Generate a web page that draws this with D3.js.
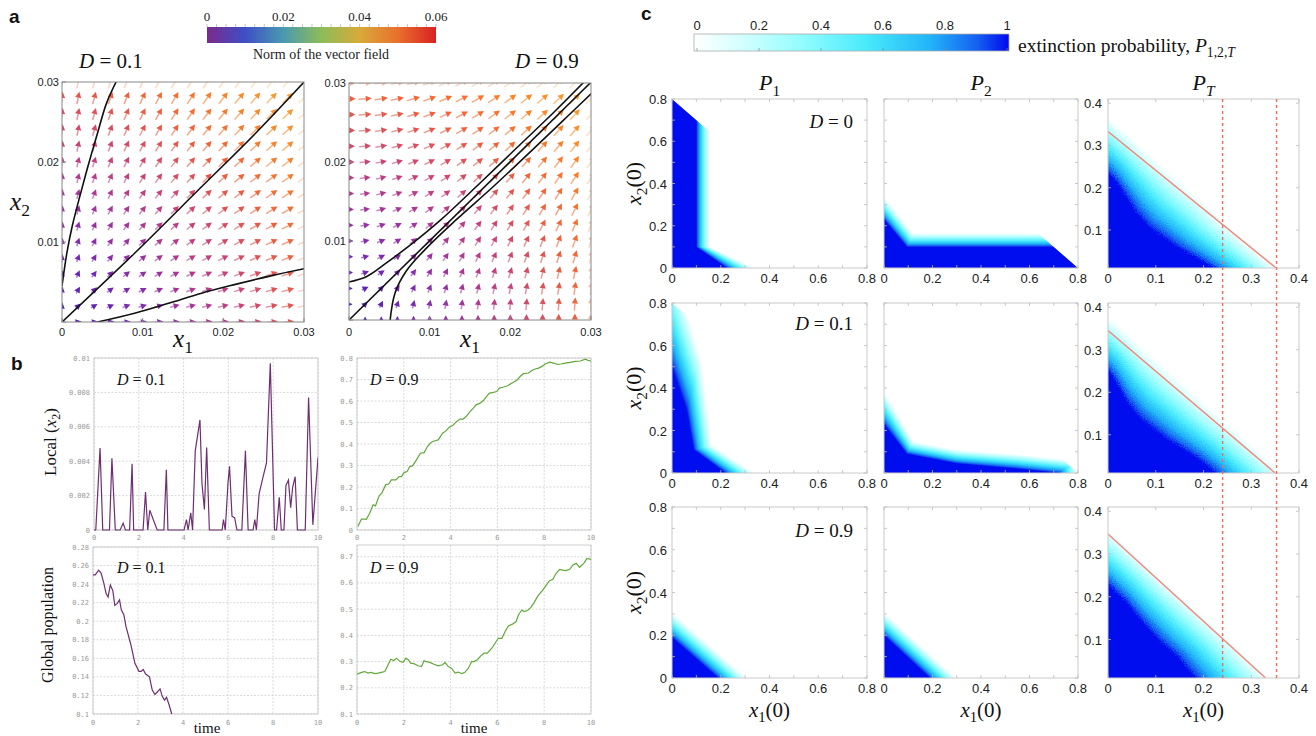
<!DOCTYPE html>
<html>
<head>
<meta charset="utf-8">
<script src="https://cdn.jsdelivr.net/npm/d3@7"></script>
<style>
  body { margin: 0; background: #fff; }
  svg text { font-family: "Liberation Sans", Arial, sans-serif; }
  .serif { font-family: "Liberation Serif", "Times New Roman", serif; }
  .mono { font-family: "DejaVu Sans Mono", monospace; }
</style>
</head>
<body>
<svg id="fig" width="1316" height="736"></svg>
<script>
// ---------------- data: panel a ----------------
const fieldGrid = [0, 0.002, 0.004, 0.006, 0.008, 0.01, 0.012, 0.014, 0.016, 0.018, 0.02, 0.022, 0.024, 0.026, 0.028, 0.03];
const dispersalRates = [0.1, 0.9];
const growthRate = 0.9;
const fieldTicks = [0, 0.01, 0.02, 0.03];
const normTicks = [0, 0.02, 0.04, 0.06];
const normColors = ['#7b2a8c', '#3d4fc6', '#4a9ab0', '#8cbc58', '#d8aa3a', '#e8702c', '#d82222'];
const arrowColors = ['#3414a8', '#6a1cae', '#9c2a98', '#c83c6a', '#ee5a30', '#f8821c', '#f8a82a'];

// solution curves
const curvesD01 = [
  [[0, 0.0045], [0.0006, 0.0086], [0.00125, 0.0119], [0.0021, 0.0153], [0.0032, 0.0194], [0.0044, 0.0236], [0.0055, 0.0273], [0.0067, 0.030]],
  [[0, 0], [0.009, 0.0086], [0.0173, 0.0169], [0.024, 0.0236], [0.0302, 0.0302]],
  [[0.0044, 0], [0.009, 0.0011], [0.0131, 0.0023], [0.0173, 0.0036], [0.0215, 0.0047], [0.026, 0.0058], [0.0302, 0.0067]]
];
const curvesD09 = [
  [[0, 0.0048], [0.0022, 0.0055], [0.0046, 0.0072], [0.0075, 0.0094], [0.0113, 0.0126], [0.0158, 0.0169], [0.0208, 0.0218], [0.0254, 0.0263], [0.0292, 0.0302]],
  [[0, 0], [0.0301, 0.0302]],
  [[0.0051, 0], [0.0057, 0.0034], [0.0071, 0.0062], [0.0096, 0.0091], [0.0133, 0.0127], [0.0179, 0.0169], [0.0229, 0.0217], [0.027, 0.0257], [0.0308, 0.0294]]
];

// ---------------- data: panel b ----------------
const timeTicks = [0, 2, 4, 6, 8, 10];
const localTicksD01 = [0, 0.002, 0.004, 0.006, 0.008, 0.01];
const globalTicksD01 = [0.1, 0.12, 0.14, 0.16, 0.18, 0.2, 0.22, 0.24, 0.26, 0.28];
const localTicksD09 = [0, 0.1, 0.2, 0.3, 0.4, 0.5, 0.6, 0.7, 0.8];
const globalTicksD09 = [0.1, 0.2, 0.3, 0.4, 0.5, 0.6, 0.7];

const localD01 = [[0, 0], [0.08, 0], [0.27, 0.00476], [0.39, 0], [0.69, 0], [0.8, 0.00417], [0.95, 0], [1.17, 0], [1.3, 0.0004], [1.4, 0], [1.59, 0], [1.7, 0.00385], [1.77, 0], [2.19, 0], [2.3, 0.0022], [2.4, 0], [2.49, 0.00115], [2.82, 0], [3.12, 0], [3.23, 0.0035], [3.3, 0], [4.02, 0], [4.13, 0.0006], [4.2, 0], [4.32, 0.001], [4.4, 0], [4.52, 0.0046], [4.73, 0.0064], [4.82, 0.0027], [4.93, 0.0012], [5.03, 0.0048], [5.15, 0], [5.72, 0], [5.78, 0.0006], [5.86, 0], [5.98, 0.0027], [6.05, 0.0037], [6.16, 0.0008], [6.28, 0.0007], [6.38, 0], [6.6, 0], [6.76, 0.0046], [6.88, 0], [7.1, 0], [7.18, 0.0006], [7.25, 0], [7.37, 0.0021], [7.55, 0.0031], [7.7, 0.0039], [7.87, 0.0097], [8.06, 0], [8.15, 0], [8.27, 0.0019], [8.36, 0], [8.48, 0], [8.57, 0.0026], [8.68, 0.0029], [8.78, 0.0013], [8.87, 0.0025], [8.98, 0.0031], [9.08, 0], [9.43, 0], [9.58, 0.0077], [9.77, 0.0003], [10, 0.0042]];
const globalD01 = [[0, 0.25], [0.1, 0.25], [0.25, 0.255], [0.36, 0.252], [0.48, 0.241], [0.58, 0.23], [0.67, 0.226], [0.77, 0.239], [0.88, 0.233], [0.97, 0.217], [1.07, 0.219], [1.18, 0.223], [1.26, 0.212], [1.37, 0.207], [1.47, 0.194], [1.67, 0.176], [1.86, 0.155], [2.04, 0.146], [2.14, 0.146], [2.23, 0.148], [2.34, 0.143], [2.51, 0.14], [2.63, 0.126], [2.75, 0.121], [2.87, 0.124], [2.98, 0.127], [3.08, 0.119], [3.18, 0.115], [3.27, 0.118], [3.38, 0.11], [3.5, 0.1]];
const localD09 = [[0.04, 0.016], [0.19, 0.051], [0.33, 0.051], [0.4, 0.05], [0.54, 0.078], [0.69, 0.117], [0.79, 0.112], [0.94, 0.158], [1.07, 0.174], [1.23, 0.211], [1.36, 0.214], [1.47, 0.233], [1.66, 0.233], [1.8, 0.248], [1.9, 0.248], [2.01, 0.267], [2.14, 0.272], [2.26, 0.295], [2.37, 0.298], [2.54, 0.326], [2.71, 0.357], [2.87, 0.36], [3.01, 0.388], [3.16, 0.407], [3.33, 0.415], [3.47, 0.419], [3.66, 0.45], [3.8, 0.461], [3.94, 0.478], [4.09, 0.486], [4.26, 0.505], [4.4, 0.516], [4.54, 0.516], [4.69, 0.531], [4.83, 0.551], [4.97, 0.567], [5.09, 0.582], [5.26, 0.59], [5.4, 0.602], [5.54, 0.621], [5.66, 0.637], [5.83, 0.64], [5.97, 0.644], [6.09, 0.66], [6.26, 0.665], [6.44, 0.671], [6.61, 0.683], [6.83, 0.696], [6.97, 0.714], [7.11, 0.727], [7.33, 0.73], [7.47, 0.742], [7.61, 0.749], [7.76, 0.753], [7.9, 0.761], [8.04, 0.772], [8.23, 0.781], [8.4, 0.776], [8.57, 0.77], [8.71, 0.772], [8.9, 0.776], [9.11, 0.78], [9.33, 0.784], [9.54, 0.786], [9.76, 0.795], [9.87, 0.789], [10, 0.786]];
const globalD09 = [[0, 0.252], [0.19, 0.259], [0.33, 0.262], [0.47, 0.256], [0.61, 0.259], [0.76, 0.254], [0.9, 0.256], [1.04, 0.259], [1.19, 0.262], [1.33, 0.288], [1.44, 0.309], [1.57, 0.304], [1.69, 0.313], [1.83, 0.301], [1.97, 0.297], [2.09, 0.313], [2.19, 0.307], [2.29, 0.294], [2.43, 0.292], [2.61, 0.284], [2.76, 0.281], [2.86, 0.303], [2.97, 0.3], [3.11, 0.297], [3.29, 0.29], [3.47, 0.284], [3.66, 0.288], [3.76, 0.297], [3.9, 0.281], [4.04, 0.275], [4.19, 0.256], [4.33, 0.26], [4.47, 0.254], [4.61, 0.259], [4.76, 0.275], [4.9, 0.3], [5.0, 0.3], [5.14, 0.307], [5.29, 0.322], [5.43, 0.332], [5.57, 0.332], [5.76, 0.351], [5.9, 0.37], [6.04, 0.389], [6.19, 0.389], [6.33, 0.415], [6.47, 0.436], [6.66, 0.444], [6.8, 0.453], [6.9, 0.478], [7.04, 0.497], [7.14, 0.491], [7.29, 0.495], [7.43, 0.507], [7.57, 0.525], [7.71, 0.548], [7.83, 0.561], [7.94, 0.573], [8.09, 0.592], [8.23, 0.609], [8.37, 0.614], [8.51, 0.637], [8.66, 0.652], [8.8, 0.649], [8.94, 0.647], [9.09, 0.652], [9.23, 0.669], [9.37, 0.675], [9.51, 0.66], [9.69, 0.675], [9.83, 0.694], [10, 0.69]];

// ---------------- data: panel c ----------------
const probTicks = [0, 0.2, 0.4, 0.6, 0.8, 1];
const probStops = [0, 0.15, 0.35, 0.55, 0.75, 0.9, 1];
const probColors = ['#ffffff', '#d4ffff', '#90fcfe', '#48eafc', '#22b4f8', '#1460f0', '#0008ee'];
const initTicksWide = [0, 0.2, 0.4, 0.6, 0.8];
const initTicksNarrow = [0, 0.1, 0.2, 0.3, 0.4];
const dispersalRows = ['0', '0.1', '0.9'];

// contour of the P = 1 core and of the fade-out edge, per panel (x1(0), x2(0))
const coreP1D0 = [[0, 0.8], [0.1, 0.7], [0.1, 0.1], [0.225, 0]];
const edgeP1D0 = [[0, 0.8], [0.155, 0.645], [0.155, 0.1], [0.34, 0]];
const coreP2D0 = [[0, 0.23], [0.095, 0.1], [0.7, 0.1], [0.8, 0]];
const edgeP2D0 = [[0, 0.34], [0.12, 0.165], [0.635, 0.165], [0.8, 0]];
const coreP1D01 = [[0, 0.5], [0.06, 0.3], [0.09, 0.11], [0.22, 0]];
const edgeP1D01 = [[0, 1.0], [0.12, 0.55], [0.165, 0.13], [0.34, 0]];
const coreP2D01 = [[0, 0.23], [0.095, 0.09], [0.3, 0.045], [0.55, 0.02], [0.72, 0]];
const edgeP2D01 = [[0, 0.39], [0.12, 0.15], [0.3, 0.11], [0.55, 0.09], [0.8, 0.06]];
const coreP1D09 = [[0, 0.19], [0.19, 0]];
const edgeP1D09 = [[0, 0.31], [0.31, 0]];
const coreP2D09 = [[0, 0.2], [0.19, 0]];
const edgeP2D09 = [[0, 0.31], [0.3, 0]];
const corePTD0 = [[0, 0.235], [0.02, 0.21], [0.04, 0.175], [0.06, 0.14], [0.085, 0.108], [0.11, 0.088], [0.145, 0.06], [0.18, 0.037], [0.215, 0.014], [0.235, 0]];
const edgePTD0 = [[0, 0.37], [0.04, 0.33], [0.08, 0.29], [0.12, 0.25], [0.16, 0.21], [0.2, 0.17], [0.24, 0.125], [0.28, 0.085], [0.32, 0.045], [0.37, 0]];
const corePTD01 = [[0, 0.252], [0.012, 0.233], [0.04, 0.177], [0.068, 0.138], [0.095, 0.114], [0.123, 0.09], [0.151, 0.071], [0.179, 0.051], [0.207, 0.027], [0.235, 0.0]];
const edgePTD01 = [[0, 0.38], [0.04, 0.34], [0.08, 0.3], [0.12, 0.26], [0.16, 0.22], [0.2, 0.18], [0.24, 0.14], [0.28, 0.1], [0.32, 0.06], [0.38, 0]];
const corePTD09 = [[0, 0.228], [0.04, 0.185], [0.074, 0.138], [0.109, 0.096], [0.144, 0.061], [0.19, 0]];
const edgePTD09 = [[0, 0.36], [0.06, 0.3], [0.12, 0.24], [0.18, 0.18], [0.24, 0.12], [0.35, 0]];
const thresholdLines = [[[0, 0.333], [0.352, 0.01]], [[0, 0.345], [0.35, 0.01]], [[0, 0.347], [0.33, 0.01]]];
const dashedX = [0.24, 0.353];

// ---------------- helpers ----------------
const svg = d3.select('#fig');
const defs = svg.append('defs');

// writes a latex-like label: parts = [{t, i (italic), sub}]
function mathText(g, x, y, parts, size, anchor, rotate) {
  const t = g.append('text')
    .attr('class', 'serif')
    .attr('font-size', size)
    .attr('text-anchor', anchor || 'middle')
    .attr('fill', '#111');
  if (rotate) t.attr('transform', `translate(${x},${y}) rotate(-90)`);
  else t.attr('x', x).attr('y', y);
  let down = false;
  parts.forEach(p => {
    const s = t.append('tspan').text(p.t);
    if (p.i) s.attr('font-style', 'italic');
    if (p.sub) {
      s.attr('font-size', size * 0.7);
      if (!down) s.attr('dy', size * 0.25);
      down = true;
    } else if (down) {
      s.attr('dy', -size * 0.25);
      down = false;
    }
  });
  return t;
}

function panelLetter(x, y, s) {
  svg.append('text').attr('x', x).attr('y', y).attr('font-size', 19)
    .attr('font-weight', 'bold').attr('fill', '#111').text(s);
}

function clipRect(id, x, y, w, h) {
  defs.append('clipPath').attr('id', id).append('rect')
    .attr('x', x).attr('y', y).attr('width', w).attr('height', h);
}

// ---------------- panel a ----------------
panelLetter(9, 23, 'a');

const normScale = d3.scaleLinear().domain([0, 0.06]).range([207, 436]);
const gradA = defs.append('linearGradient').attr('id', 'gradNorm');
normColors.forEach((c, i) => gradA.append('stop')
  .attr('offset', i / (normColors.length - 1)).attr('stop-color', c));
svg.append('rect').attr('x', 207).attr('y', 27).attr('width', 229).attr('height', 16)
  .attr('fill', 'url(#gradNorm)');
d3.range(0, 0.0601, 0.0025).forEach(v => {
  svg.append('line').attr('x1', normScale(v)).attr('x2', normScale(v))
    .attr('y1', 27).attr('y2', 24).attr('stroke', '#aaa').attr('stroke-width', 0.7);
});
normTicks.forEach(v => {
  svg.append('text').attr('class', 'serif').attr('x', normScale(v)).attr('y', 21)
    .attr('text-anchor', 'middle').attr('font-size', 13).attr('fill', '#222').text(v);
});
svg.append('text').attr('class', 'serif').attr('x', 321).attr('y', 59)
  .attr('text-anchor', 'middle').attr('font-size', 14).attr('fill', '#222')
  .text('Norm of the vector field');

const arrowColor = d3.scaleLinear()
  .domain(arrowColors.map((c, i) => 0.038 * i / (arrowColors.length - 1)))
  .range(arrowColors).clamp(true);

const aPanels = [
  { x: d3.scaleLinear().domain([0, 0.03]).range([62, 304]), y: d3.scaleLinear().domain([0, 0.03]).range([322, 82]), D: dispersalRates[0], curves: curvesD01, title: '0.1', tx: 111 },
  { x: d3.scaleLinear().domain([0, 0.03]).range([349, 591]), y: d3.scaleLinear().domain([0, 0.03]).range([320, 83]), D: dispersalRates[1], curves: curvesD09, title: '0.9', tx: 547 }
];

aPanels.forEach((p, pi) => {
  const [x0, x1] = p.x.range();
  const [y1, y0] = p.y.range();
  clipRect(`clipA${pi}`, x0, y0, x1 - x0, y1 - y0);

  const g = svg.append('g').attr('clip-path', `url(#clipA${pi})`);
  fieldGrid.forEach((gx, ci) => {
    fieldGrid.forEach((gy, ri) => {
      const u = growthRate * gx + p.D * (gy - gx);
      const v = growthRate * gy + p.D * (gx - gy);
      const n = Math.hypot(u, v);
      if (n < 1e-9) return;
      const dx = u / n, dy = -v / n;
      const L = 6.5 + 8 * Math.min(1, n / 0.03);
      const cx = p.x(gx), cy = p.y(gy);
      const tipX = cx + dx * L / 2, tipY = cy + dy * L / 2;
      const tailX = cx - dx * L / 2, tailY = cy - dy * L / 2;
      const hl = 6, hw = 3.1;
      const bx = tipX - dx * hl, by = tipY - dy * hl;
      const edge = (ci === fieldGrid.length - 1 || ri === fieldGrid.length - 1);
      const op = edge ? 0.45 : 0.95;
      const col = arrowColor(n);
      g.append('line').attr('x1', tailX).attr('y1', tailY).attr('x2', bx).attr('y2', by)
        .attr('stroke', col).attr('stroke-width', 1.5).attr('stroke-opacity', op * 0.6);
      g.append('path')
        .attr('d', `M${tipX},${tipY}L${bx - dy * hw},${by + dx * hw}L${bx + dy * hw},${by - dx * hw}Z`)
        .attr('fill', col).attr('fill-opacity', op);
    });
  });

  const line = d3.line().x(d => p.x(d[0])).y(d => p.y(d[1])).curve(d3.curveCatmullRom);
  p.curves.forEach(c => {
    g.append('path').attr('d', line(c)).attr('fill', 'none')
      .attr('stroke', '#111').attr('stroke-width', 1.6);
  });

  svg.append('rect').attr('x', x0).attr('y', y0).attr('width', x1 - x0).attr('height', y1 - y0)
    .attr('fill', 'none').attr('stroke', '#888').attr('stroke-width', 1);

  fieldTicks.forEach(t => {
    svg.append('line').attr('x1', p.x(t)).attr('x2', p.x(t)).attr('y1', y1).attr('y2', y1 - 4)
      .attr('stroke', '#888');
    svg.append('line').attr('x1', x0).attr('x2', x0 + 4).attr('y1', p.y(t)).attr('y2', p.y(t))
      .attr('stroke', '#888');
    svg.append('text').attr('x', p.x(t)).attr('y', 336).attr('text-anchor', 'middle')
      .attr('font-size', 11).attr('fill', '#222').text(t);
    if (t > 0) {
      svg.append('text').attr('x', x0 - 3).attr('y', p.y(t) + 4).attr('text-anchor', 'end')
        .attr('font-size', 11).attr('fill', '#222').text(t);
    }
  });

  mathText(svg, p.tx, 68, [{ t: 'D', i: true }, { t: ' = ' + p.title }], 21);
  mathText(svg, (x0 + x1) / 2, 347, [{ t: 'x', i: true }, { t: '1', sub: true }], 25);
});
mathText(svg, 20, 210, [{ t: 'x', i: true }, { t: '2', sub: true }], 25);

// ---------------- panel b ----------------
panelLetter(11, 370, 'b');

const bPanels = [
  { x0: 94, x1: 318, y0: 358, y1: 530, dom: [0, 0.01], ticks: localTicksD01, data: localD01, color: '#6e2e72', label: '0.1', xl: 117, ly: 385, ty: 540 },
  { x0: 93, x1: 318, y0: 547, y1: 714, dom: [0.1, 0.28], ticks: globalTicksD01, data: globalD01, color: '#6e2e72', label: '0.1', xl: 117, ly: 573, ty: 725 },
  { x0: 357, x1: 591, y0: 358, y1: 530, dom: [0, 0.8], ticks: localTicksD09, data: localD09, color: '#62a83c', label: '0.9', xl: 370, ly: 385, ty: 540 },
  { x0: 357, x1: 591, y0: 545, y1: 714, dom: [0.1, 0.745], ticks: globalTicksD09, data: globalD09, color: '#62a83c', label: '0.9', xl: 370, ly: 573, ty: 725 }
];

bPanels.forEach((p, pi) => {
  const x = d3.scaleLinear().domain([0, 10]).range([p.x0, p.x1]);
  const y = d3.scaleLinear().domain(p.dom).range([p.y1, p.y0]);
  const g = svg.append('g');
  timeTicks.forEach(t => {
    g.append('line').attr('x1', x(t)).attr('x2', x(t)).attr('y1', p.y0).attr('y2', p.y1)
      .attr('stroke', '#cfcfcf').attr('stroke-width', 0.8).attr('stroke-dasharray', '2,1.5');
    g.append('text').attr('class', 'mono').attr('x', x(t)).attr('y', p.ty)
      .attr('text-anchor', 'middle').attr('font-size', 7).attr('fill', '#999').text(t);
  });
  p.ticks.forEach(v => {
    g.append('line').attr('x1', p.x0).attr('x2', p.x1).attr('y1', y(v)).attr('y2', y(v))
      .attr('stroke', '#cfcfcf').attr('stroke-width', 0.8).attr('stroke-dasharray', '2,1.5');
    g.append('text').attr('class', 'mono').attr('x', p.x0 - 4).attr('y', y(v) + 2.5)
      .attr('text-anchor', 'end').attr('font-size', 7).attr('fill', '#999').text(+v.toFixed(3));
  });
  g.append('rect').attr('x', p.x0).attr('y', p.y0).attr('width', p.x1 - p.x0).attr('height', p.y1 - p.y0)
    .attr('fill', 'none').attr('stroke', '#c4c4c4').attr('stroke-width', 0.8);
  clipRect(`clipB${pi}`, p.x0, p.y0 - 1, p.x1 - p.x0, p.y1 - p.y0 + 2);
  g.append('path').attr('clip-path', `url(#clipB${pi})`)
    .attr('d', d3.line().x(d => x(d[0])).y(d => y(d[1]))(p.data))
    .attr('fill', 'none').attr('stroke', p.color).attr('stroke-width', 1.2);
  mathText(svg, p.xl, p.ly, [{ t: 'D', i: true }, { t: ' = ' + p.label }], 16, 'start');
});
mathText(svg, 56, 442, [{ t: 'Local (' }, { t: 'x', i: true }, { t: '2', sub: true }, { t: ')' }], 17, 'middle', true);
svg.append('text').attr('class', 'serif').attr('transform', 'translate(53,625) rotate(-90)')
  .attr('text-anchor', 'middle').attr('font-size', 16).attr('fill', '#111').text('Global population');
svg.append('text').attr('class', 'serif').attr('x', 207).attr('y', 733).attr('text-anchor', 'middle')
  .attr('font-size', 15).attr('fill', '#111').text('time');
svg.append('text').attr('class', 'serif').attr('x', 474).attr('y', 733).attr('text-anchor', 'middle')
  .attr('font-size', 15).attr('fill', '#111').text('time');

// ---------------- panel c ----------------
panelLetter(641, 20, 'c');

const probColor = d3.scaleLinear().domain(probStops).range(probColors).clamp(true);
const probScale = d3.scaleLinear().domain([0, 1]).range([697, 1007]);
const gradC = defs.append('linearGradient').attr('id', 'gradProb');
probStops.forEach((s, i) => gradC.append('stop').attr('offset', s).attr('stop-color', probColors[i]));
svg.append('rect').attr('x', 694).attr('y', 34).attr('width', 315).attr('height', 17)
  .attr('fill', 'url(#gradProb)').attr('stroke', '#aaa').attr('stroke-width', 0.8);
probTicks.forEach(v => {
  svg.append('text').attr('x', probScale(v)).attr('y', 30).attr('text-anchor', 'middle')
    .attr('font-size', 13).attr('fill', '#222').text(v);
  svg.append('line').attr('x1', probScale(v)).attr('x2', probScale(v)).attr('y1', 51).attr('y2', 48)
    .attr('stroke', '#888').attr('stroke-width', 0.7);
});
mathText(svg, 1018, 52, [{ t: 'extinction probability, ' }, { t: 'P', i: true }, { t: '1,2,', sub: true }, { t: 'T', sub: true, i: true }], 19.5, 'start');

// speckle filter for the Monte Carlo panels and a soft blur for the others
const speckle = defs.append('filter').attr('id', 'speckle')
  .attr('x', '-5%').attr('y', '-5%').attr('width', '110%').attr('height', '110%');
speckle.append('feTurbulence').attr('type', 'fractalNoise').attr('baseFrequency', 0.9)
  .attr('numOctaves', 1).attr('seed', 4).attr('result', 'noise');
speckle.append('feDisplacementMap').attr('in', 'SourceGraphic').attr('in2', 'noise')
  .attr('scale', 7).attr('xChannelSelector', 'R').attr('yChannelSelector', 'G');
defs.append('filter').attr('id', 'soft').append('feGaussianBlur').attr('stdDeviation', 0.7);

const cCols = [[672, 867], [884, 1078], [1108, 1299]];
const cRows = [[99, 268], [303, 473], [507, 678]];
const cTitles = ['1', '2', 'T'];
const cShapes = [
  [[coreP1D0, edgeP1D0], [coreP2D0, edgeP2D0], [corePTD0, edgePTD0]],
  [[coreP1D01, edgeP1D01], [coreP2D01, edgeP2D01], [corePTD01, edgePTD01]],
  [[coreP1D09, edgeP1D09], [coreP2D09, edgeP2D09], [corePTD09, edgePTD09]]
];
const nLayers = 28;

function layerPoints(core, edge, t) {
  const pts = core.map((c, i) => [edge[i][0] + (c[0] - edge[i][0]) * t, edge[i][1] + (c[1] - edge[i][1]) * t]);
  const first = pts[0], last = pts[pts.length - 1];
  return [[-0.05, -0.05], [-0.05, first[1]], ...pts, [last[0], -0.05]];
}

cRows.forEach((row, r) => {
  cCols.forEach((col, c) => {
    const narrow = c === 2;
    const x = d3.scaleLinear().domain([0, narrow ? 0.4 : 0.8]).range(col);
    const y = d3.scaleLinear().domain(narrow ? [0.01, 0.41] : [0, 0.8]).range([row[1], row[0]]);
    const id = `clipC${r}${c}`;
    const cp = defs.append('clipPath').attr('id', id);
    if (narrow) {
      cp.append('rect').attr('x', col[0]).attr('y', row[0]).attr('width', col[1] - col[0]).attr('height', row[1] - row[0]);
    } else {
      cp.append('polygon').attr('points', [[0, 0], [0, 0.8], [0.8, 0]].map(d => [x(d[0]), y(d[1])].join(',')).join(' '));
    }
    const outer = svg.append('g').attr('clip-path', `url(#${id})`);
    const inner = outer.append('g').attr('filter', narrow ? 'url(#speckle)' : 'url(#soft)');
    const [core, edge] = cShapes[r][c];
    for (let k = 1; k <= nLayers; k++) {
      const t = k / nLayers;
      inner.append('polygon')
        .attr('points', layerPoints(core, edge, t).map(d => [x(d[0]), y(d[1])].join(',')).join(' '))
        .attr('fill', probColor(t));
    }

    if (narrow) {
      outer.append('path').attr('d', d3.line().x(d => x(d[0])).y(d => y(d[1]))(thresholdLines[r]))
        .attr('stroke', '#f28a7c').attr('stroke-width', 1.5).attr('fill', 'none');
    }

    // frame with inward ticks on all sides
    svg.append('rect').attr('x', col[0]).attr('y', row[0]).attr('width', col[1] - col[0]).attr('height', row[1] - row[0])
      .attr('fill', 'none').attr('stroke', '#cacaca').attr('stroke-width', 1);
    const minor = narrow ? d3.range(0, 0.401, 0.1) : d3.range(0, 0.801, 0.1);
    minor.forEach(v => {
      [[row[1], -3], [row[0], 3]].forEach(([yy, d]) => {
        svg.append('line').attr('x1', x(v)).attr('x2', x(v)).attr('y1', yy).attr('y2', yy + d)
          .attr('stroke', '#bbb').attr('stroke-width', 0.8);
      });
      if (y(v) >= row[0] && y(v) <= row[1]) {
        [[col[0], 3], [col[1], -3]].forEach(([xx, d]) => {
          svg.append('line').attr('x1', xx).attr('x2', xx + d).attr('y1', y(v)).attr('y2', y(v))
            .attr('stroke', '#bbb').attr('stroke-width', 0.8);
        });
      }
    });

    const xt = narrow ? initTicksNarrow : initTicksWide;
    xt.forEach(v => {
      svg.append('text').attr('x', x(v)).attr('y', row[1] + 15).attr('text-anchor', 'middle')
        .attr('font-size', 13).attr('fill', '#222').text(v);
    });
    if (c === 0) {
      initTicksWide.forEach(v => {
        svg.append('text').attr('x', col[0] - 5).attr('y', y(v) + 5).attr('text-anchor', 'end')
          .attr('font-size', 13).attr('fill', '#222').text(v);
      });
    }
    if (narrow) {
      initTicksNarrow.filter(v => v > 0).forEach(v => {
        svg.append('text').attr('x', col[0] - 6).attr('y', y(v) + 5).attr('text-anchor', 'end')
          .attr('font-size', 13).attr('fill', '#222').text(v);
      });
    }
    if (r === 0) {
      mathText(svg, (col[0] + col[1]) / 2, 90, [{ t: 'P', i: true }, { t: cTitles[c], sub: true, i: cTitles[c] === 'T' }], 22);
    }
    if (r === 2) {
      mathText(svg, (col[0] + col[1]) / 2, 717, [{ t: 'x', i: true }, { t: '1', sub: true }, { t: '(0)' }], 21);
    }
  });
  mathText(svg, 641, (row[0] + row[1]) / 2, [{ t: 'x', i: true }, { t: '2', sub: true }, { t: '(0)' }], 22, 'middle', true);
  mathText(svg, 853, row[0] + [29, 27, 30][r], [{ t: 'D', i: true }, { t: ' = ' + dispersalRows[r] }], 19, 'end');
});

// dashed thresholds through the P_T column
const xPT = d3.scaleLinear().domain([0, 0.4]).range(cCols[2]);
dashedX.forEach(v => {
  svg.append('line').attr('x1', xPT(v)).attr('x2', xPT(v)).attr('y1', cRows[0][0]).attr('y2', cRows[2][1])
    .attr('stroke', '#f06a5a').attr('stroke-width', 1.4).attr('stroke-dasharray', '3,3');
});
</script>
</body>
</html>
